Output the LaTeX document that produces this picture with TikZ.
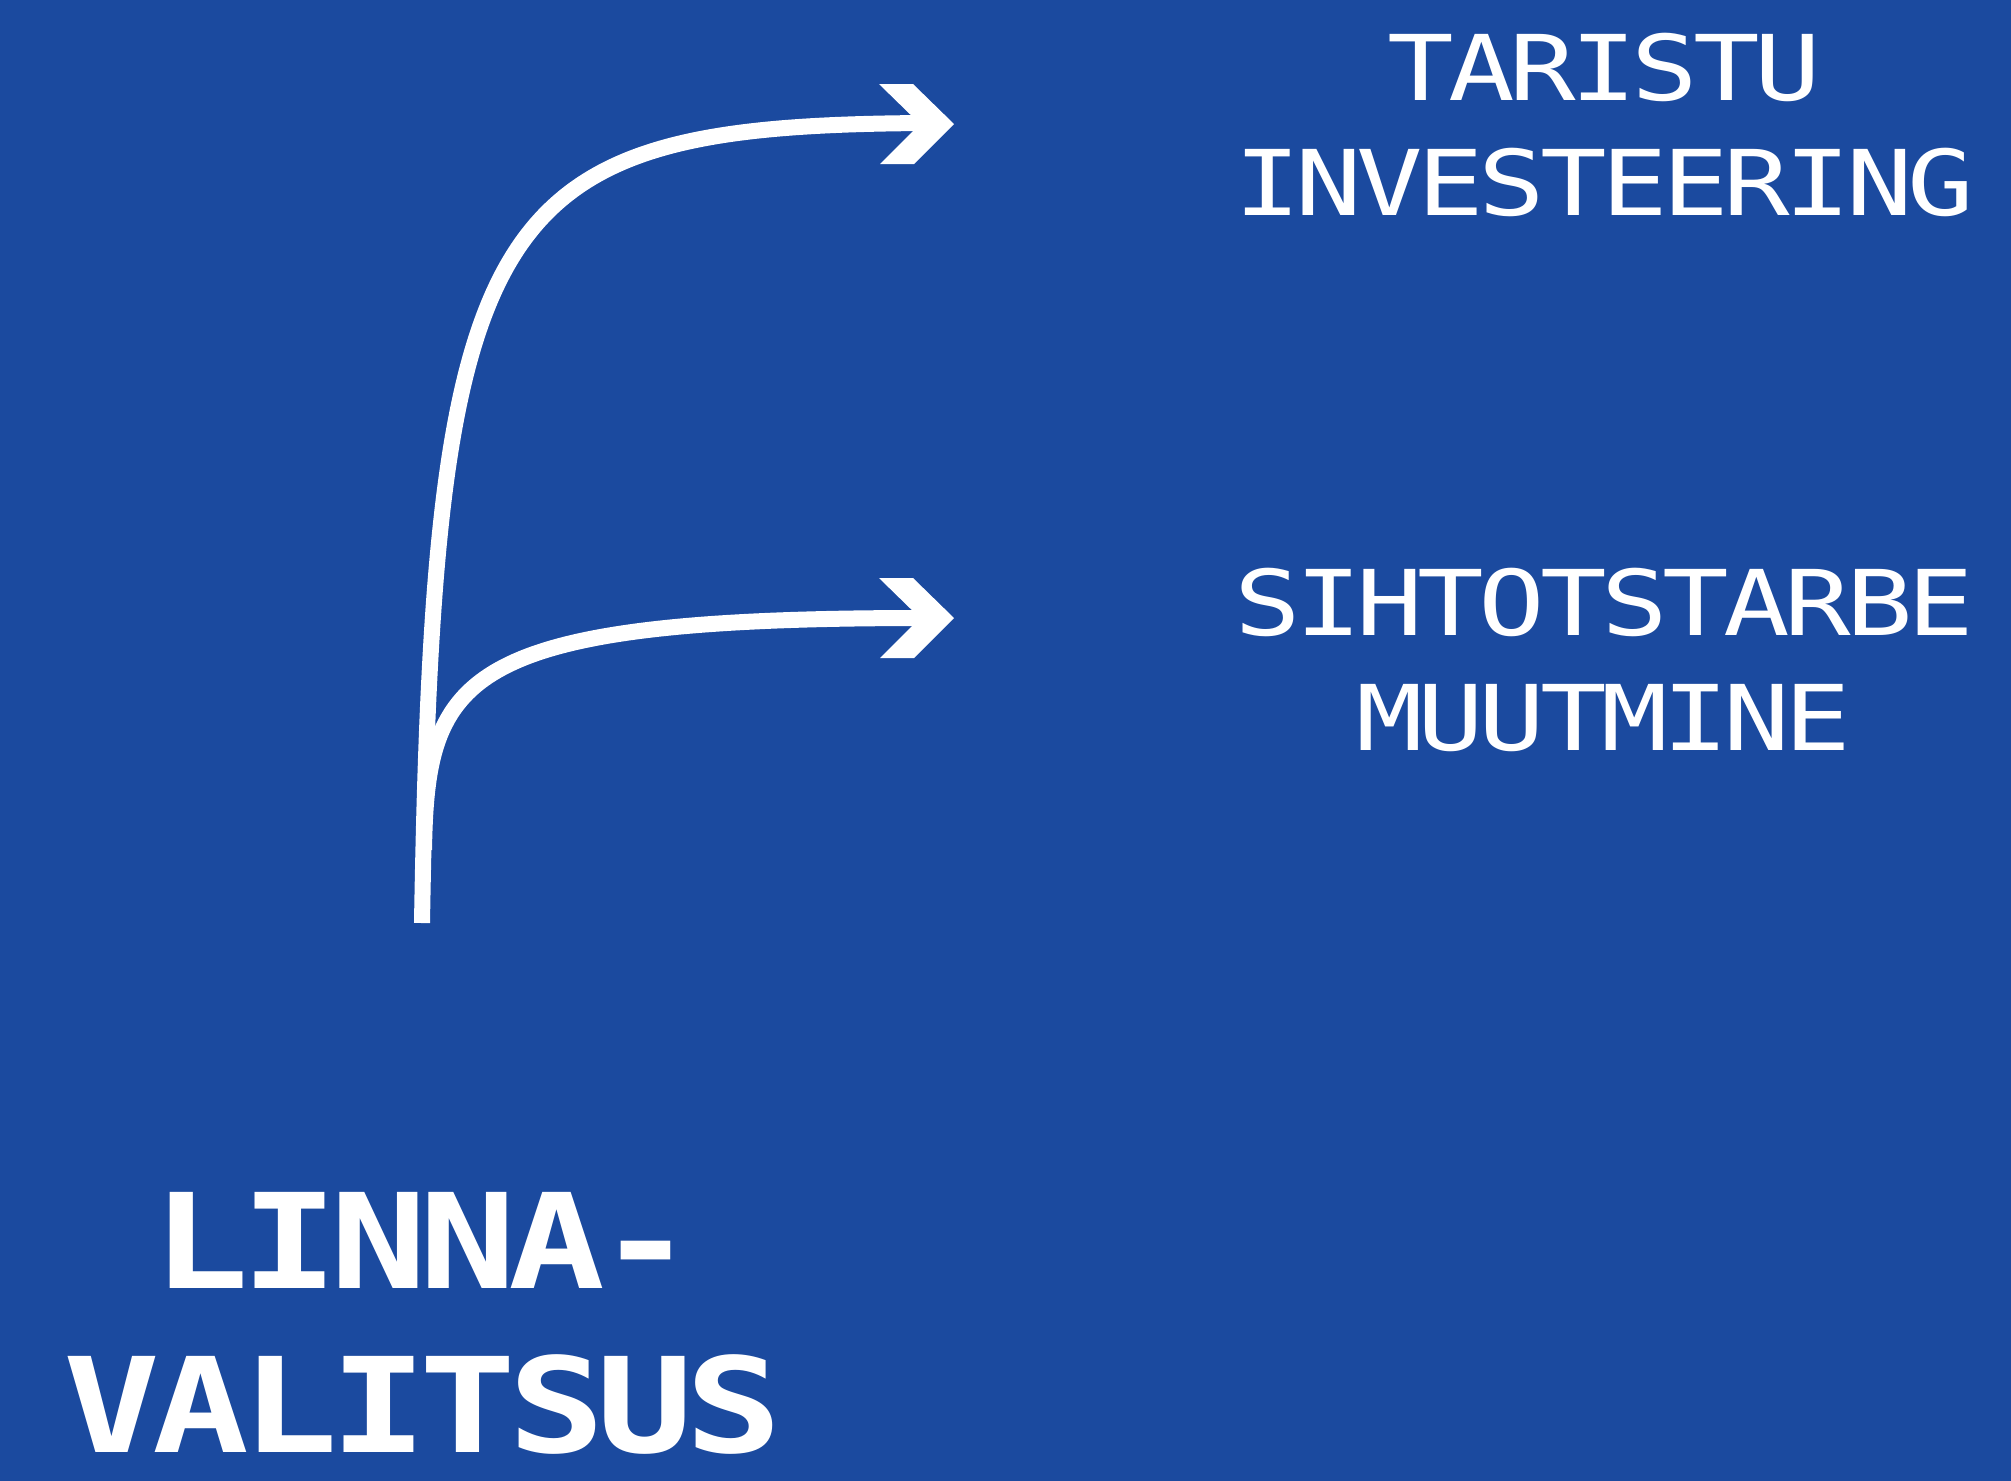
\documentclass[tikz,border=0pt]{standalone}
\usepackage{fontspec}
\newfontfamily\labelfont[FakeStretch=1.22,LetterSpace=-6]{DejaVu Sans Mono}
\newfontfamily\titlefont[FakeStretch=1.22,LetterSpace=-6]{DejaVu Sans Mono}
\definecolor{signblue}{RGB}{27,74,159}
\tikzset{
  flow/.style={draw=white, line width=0.16cm},
  chevron/.style={fill=white},
  goal/.style={text=white, inner sep=0pt, align=center,
    font=\labelfont\fontsize{25.8}{32.9}\selectfont},
  title/.style={text=white, inner sep=0pt, align=center,
    font=\titlefont\bfseries\fontsize{37.5}{46.7}\selectfont},
}
\begin{document}
\begin{tikzpicture}[x=0.01cm, y=-0.01cm]
  % Background
  \fill[signblue] (0,0) rectangle (2011,1481);

  % Labels
  \node[goal] (invest) at (1604,125) {TARISTU\\INVESTEERING};
  \node[goal] (purpose) at (1604,660) {SIHTOTSTARBE\\MUUTMINE};
  \node[title] (council) at (423,1323) {LINNA-\\VALITSUS};

  % Points of the arrows
  \coordinate (root) at (422,923);
  \coordinate (fork) at (424,850);
  \coordinate (endA) at (924,123);
  \coordinate (endB) at (924,618);

  % Arrow shafts
  \draw[flow] (root) .. controls (434,200) and (490,126) .. (endA);
  \draw[flow] (fork) .. controls (427,675) and (460,618) .. (endB);

  % Arrow heads
  \fill[chevron] (endA) ++(-45,-39) -- ++(34,0) -- ++(41,40) -- ++(-40,40) -- ++(-34,0) -- ++(40,-40) -- cycle;
  \fill[chevron] (endB) ++(-45,-40) -- ++(34,0) -- ++(41,40) -- ++(-40,40) -- ++(-34,0) -- ++(40,-40) -- cycle;
\end{tikzpicture}
\end{document}
